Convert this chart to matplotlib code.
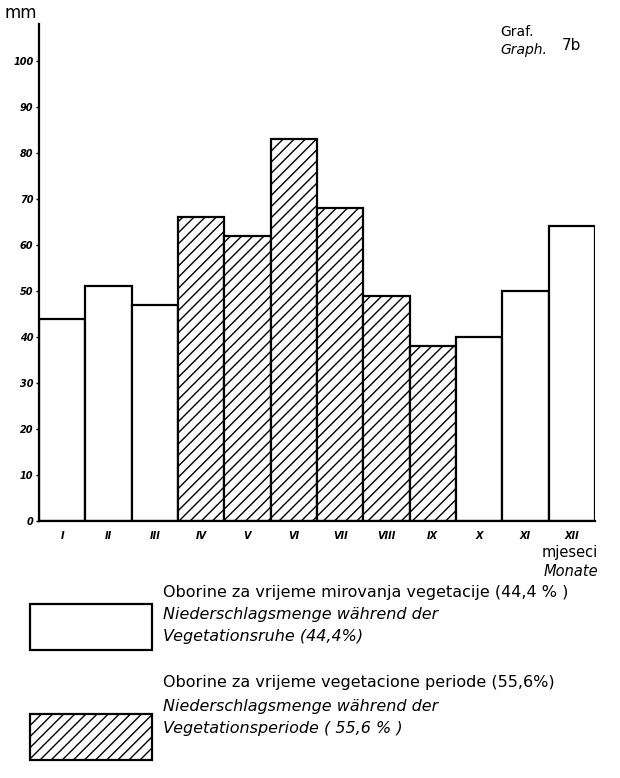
import matplotlib
matplotlib.use("Agg")
import matplotlib.pyplot as plt
from matplotlib.patches import Rectangle

months = ["I", "II", "III", "IV", "V", "VI", "VII", "VIII", "IX", "X", "XI", "XII"]
precip = [44, 51, 47, 66, 62, 83, 68, 49, 38, 40, 50, 64]
vegetation = [False, False, False, True, True, True, True, True, True, False, False, False]
y_ticks = [0, 10, 20, 30, 40, 50, 60, 70, 80, 90, 100]

W, H = 620, 778
fig = plt.figure(figsize=(W / 100, H / 100), dpi=100)
plt.rcParams["hatch.linewidth"] = 1.0

# axes placed in pixel units of the original scan
x0, x1, y0, ytop = 39, 595, 521, 24
ax = fig.add_axes([x0 / W, 1 - y0 / H, (x1 - x0) / W, (y0 - ytop) / H])

for i, (m, v, veg) in enumerate(zip(months, precip, vegetation)):
    ax.bar(i + 1, v, width=1.0, facecolor="white", edgecolor="black", linewidth=1.6,
           hatch="///" if veg else None)

ax.set_xlim(0.5, 12.5)
ax.set_ylim(0, 108)
for s in ["top", "right"]:
    ax.spines[s].set_visible(False)
ax.spines["left"].set_linewidth(1.6)
ax.spines["bottom"].set_linewidth(1.6)

ax.set_yticks(y_ticks)
ax.set_yticklabels([str(t) for t in y_ticks], fontsize=7, fontstyle="italic", fontweight="bold")
ax.tick_params(axis="y", length=2, width=1, pad=2)
ax.set_xticks(range(1, 13))
ax.set_xticklabels(months, fontsize=7, fontstyle="italic", fontweight="bold")
ax.tick_params(axis="x", length=0, pad=7)

# texts
fig.text(5 / W, 1 - 13 / H, "mm", fontsize=12, va="center", ha="left")
fig.text(500 / W, 1 - 32 / H, "Graf.", fontsize=10, va="center", ha="left")
fig.text(500 / W, 1 - 50 / H, "Graph.", fontsize=10, fontstyle="italic", va="center", ha="left")
fig.text(562 / W, 1 - 45 / H, "7b", fontsize=11, va="center", ha="left")
fig.text(598 / W, 1 - 553 / H, "mjeseci", fontsize=10.5, va="center", ha="right")
fig.text(598 / W, 1 - 571 / H, "Monate", fontsize=10.5, fontstyle="italic", va="center", ha="right")

# legend boxes
fig.patches.append(Rectangle((30 / W, 1 - 650 / H), 122 / W, 46 / H, transform=fig.transFigure,
                             facecolor="white", edgecolor="black", linewidth=1.6))
fig.patches.append(Rectangle((30 / W, 1 - 760 / H), 122 / W, 46 / H, transform=fig.transFigure,
                             facecolor="white", edgecolor="black", linewidth=1.6, hatch="///"))

lx = 163 / W
fs = 11.5
fig.text(lx, 1 - 592 / H, "Oborine za vrijeme mirovanja vegetacije (44,4 % )", fontsize=fs, va="center")
fig.text(lx, 1 - 614 / H, "Niederschlagsmenge während der", fontsize=fs, fontstyle="italic", va="center")
fig.text(lx, 1 - 636 / H, "Vegetationsruhe (44,4%)", fontsize=fs, fontstyle="italic", va="center")
fig.text(lx, 1 - 682 / H, "Oborine za vrijeme vegetacione periode (55,6%)", fontsize=fs, va="center")
fig.text(lx, 1 - 706 / H, "Niederschlagsmenge während der", fontsize=fs, fontstyle="italic", va="center")
fig.text(lx, 1 - 728 / H, "Vegetationsperiode ( 55,6 % )", fontsize=fs, fontstyle="italic", va="center")

fig.savefig("out.png", dpi=100)
